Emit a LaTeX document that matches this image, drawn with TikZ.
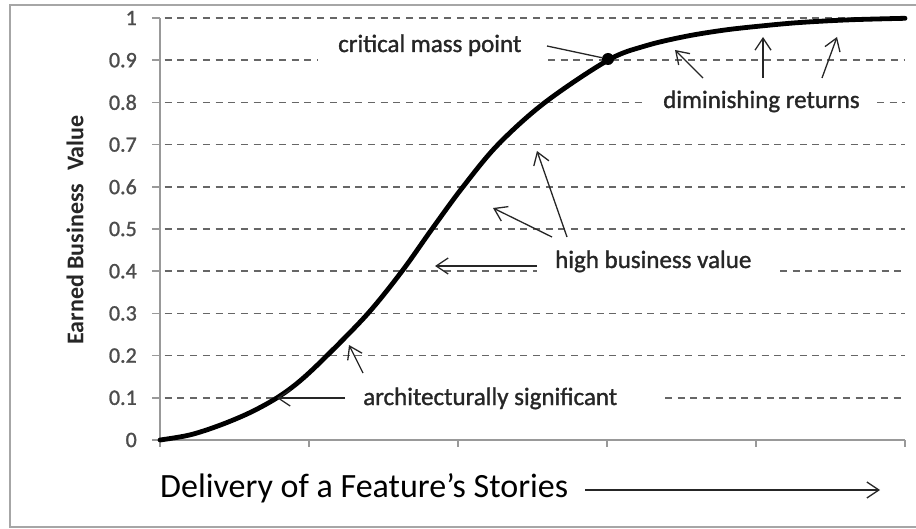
\documentclass[tikz,border=0pt]{standalone}
\usepackage{fontspec}
\setmainfont{Carlito}
\newfontfamily\medfont[FakeBold=1.2]{Carlito}
\usetikzlibrary{arrows.meta}
\begin{document}
\begin{tikzpicture}[x=1pt,y=-1pt,
  grid/.style={draw=black!60, line width=1.6pt, dash pattern=on 7pt off 5.7pt},
  axisline/.style={draw=black!40, line width=1.6pt},
  frameline/.style={draw=black!35, line width=1.5pt},
  ptr/.style={draw=black!85, line width=1.3pt, -{Straight Barb[length=12pt,width=16pt]}},
  lbl/.style={font=\medfont\fontsize{25}{30}\selectfont, text=black!85, inner sep=0pt, anchor=base west},
  ticklbl/.style={font=\medfont\fontsize{22}{26}\selectfont, text=black!70, inner sep=0pt, anchor=east},
  curve/.style={draw=black, line width=4.8pt, line cap=round},
  dotmark/.style={circle, fill=black, inner sep=0pt, minimum size=12pt}]
\useasboundingbox (0,0) rectangle (916,529);
% frame
\draw[frameline] (920,5) -- (10,5) -- (10,527) -- (920,527);
% gridlines (full)
\foreach \v in {10,7,6,5,3,2}
  \draw[grid] (152,{440-42.2*\v}) -- (905,{440-42.2*\v});
% gridlines broken by labels
\draw[grid] (152,60.2) -- (318,60.2);
\draw[grid] (548,60.2) -- (905,60.2);
\draw[grid] (152,102.4) -- (645,102.4);
\draw[grid] (877,102.4) -- (905,102.4);
\draw[grid] (152,271.2) -- (537,271.2);
\draw[grid] (780,271.2) -- (905,271.2);
\draw[grid] (152,397.8) -- (345,397.8);
\draw[grid] (665,397.8) -- (905,397.8);
% axes
\draw[axisline] (160,18) -- (160,440);
\draw[axisline] (152,440) -- (905,440);
\foreach \v in {0,...,10}
  \draw[axisline] (152,{440-42.2*\v}) -- (160,{440-42.2*\v});
\foreach \x in {160,309,458,607,756,905}
  \draw[axisline] (\x,440) -- (\x,447);
% tick labels
\foreach \v/\t in {0/0,1/0.1,2/0.2,3/0.3,4/0.4,5/0.5,6/0.6,7/0.7,8/0.8,9/0.9,10/1}
  \node[ticklbl] (tl\v) at (137,{440-42.2*\v}) {\t};
% axis titles
\node[rotate=90, font=\bfseries\fontsize{24}{28}\selectfont, text=black!85] (ylab) at (75,230) {Earned Business\hspace{0.3em} Value};
\node[lbl, font=\fontsize{34}{40}\selectfont, text=black] (xlab) at (160,497) {Delivery of a Feature’s Stories};
\coordinate (xa) at (585,490);
\coordinate (xb) at (880,490);
\draw[ptr] (xa) -- (xb);
% curve
\draw[curve] plot[smooth, tension=0.55] coordinates {
  (160,440) (190,434.9) (220,425.2) (250,412.6) (277,397.8) (300,380.9)
  (327,355.6) (368,313.4) (402,271.2) (432,229) (463,186.8) (498,144.6)
  (545,102.4) (608,60.2) (645,46) (685,36.5) (725,30) (763,25.8) (800,22.5)
  (850,19.8) (905,18.3)};
\node[dotmark] (cm) at (608,59) {};
% labels
\node[lbl] (cmp) at (338,52) {critical mass point};
\node[lbl] (dr) at (663,108) {diminishing returns};
\node[lbl] (hbv) at (555,268) {high business value};
\node[lbl] (as) at (363,405) {architecturally significant};
% critical mass pointer
\coordinate (cm0) at (547,46);
\draw[draw=black!85, line width=1.3pt] (cm0) -- (cm);
% diminishing returns pointers
\coordinate (dr1a) at (703,78); \coordinate (dr1b) at (675,50);
\coordinate (dr2a) at (763,78); \coordinate (dr2b) at (763,37);
\coordinate (dr3a) at (822,78); \coordinate (dr3b) at (837,37);
\draw[ptr] (dr1a) -- (dr1b);
\draw[ptr] (dr2a) -- (dr2b);
\draw[ptr] (dr3a) -- (dr3b);
% high business value pointers
\coordinate (hb1a) at (537,266); \coordinate (hb1b) at (435,266);
\coordinate (hb2a) at (552,237); \coordinate (hb2b) at (493,208);
\coordinate (hb3a) at (567,237); \coordinate (hb3b) at (537,151);
\draw[ptr] (hb1a) -- (hb1b);
\draw[ptr] (hb2a) -- (hb2b);
\draw[ptr] (hb3a) -- (hb3b);
% architecturally significant pointers
\coordinate (as1a) at (345,398); \coordinate (as1b) at (277,398);
\coordinate (as2a) at (363,373); \coordinate (as2b) at (349,345);
\draw[ptr] (as1a) -- (as1b);
\draw[ptr] (as2a) -- (as2b);
\end{tikzpicture}
\end{document}
